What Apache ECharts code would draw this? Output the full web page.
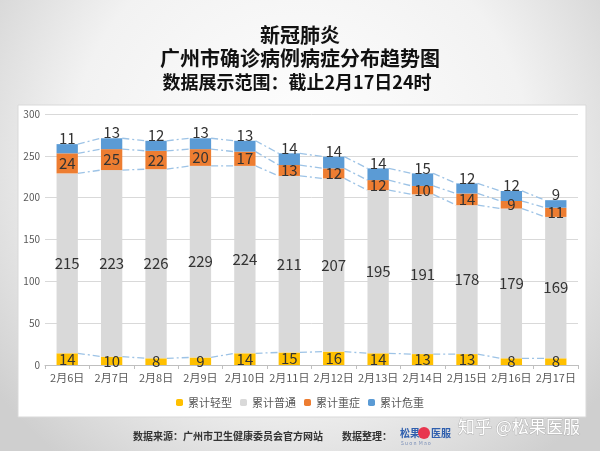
<!DOCTYPE html>
<html><head><meta charset="utf-8">
<script src="https://cdn.jsdelivr.net/npm/echarts@6/dist/echarts.min.js"></script>
<style>html,body{margin:0;padding:0;}#c{width:600px;height:451px;}</style>
</head><body><div id="c"></div>
<script>
const categories = ['2月6日','2月7日','2月8日','2月9日','2月10日','2月11日','2月12日','2月13日','2月14日','2月15日','2月16日','2月17日'];
const mild = [14,10,8,9,14,15,16,14,13,13,8,8];
const ordinary = [215,223,226,229,224,211,207,195,191,178,179,169];
const severe = [24,25,22,20,17,13,12,12,10,14,9,11];
const critical = [11,13,12,13,13,14,14,14,15,12,12,9];
const seriesNames = ['累计轻型','累计普通','累计重症','累计危重'];
const yTicks = [0,50,100,150,200,250,300];

const FONT = '"Noto Sans CJK SC", "Noto Sans", sans-serif';
const N = categories.length;
const cum1 = mild.map((v,i)=>v);
const cum2 = mild.map((v,i)=>v+ordinary[i]);
const cum3 = cum2.map((v,i)=>v+severe[i]);
const cum4 = cum3.map((v,i)=>v+critical[i]);
const levels = [cum1,cum2,cum3,cum4];

const chart = echarts.init(document.getElementById('c'), null, {renderer:'canvas'});
const lbl = {show:true, color:'#333333', fontSize:15, fontFamily:FONT};
const option = {
  animation:false,
  backgroundColor:{type:'radial', x:0.5, y:0.35, r:0.85, colorStops:[{offset:0,color:'#ffffff'},{offset:0.6,color:'#f2f2f2'},{offset:1,color:'#cfcfcf'}]},
  graphic:[
    {type:'rect', z:-10, shape:{x:18,y:105,width:568,height:312}, style:{fill:'#ffffff', stroke:'#d9d9d9', lineWidth:1}},
    {type:'text', x:300, y:35, style:{text:'新冠肺炎', font:'bold 20px '+FONT, fill:'#111', textAlign:'center', textVerticalAlign:'middle', align:'center', verticalAlign:'middle'}},
    {type:'text', x:300, y:58, style:{text:'广州市确诊病例病症分布趋势图', font:'bold 20px '+FONT, fill:'#111', textAlign:'center', textVerticalAlign:'middle', align:'center', verticalAlign:'middle'}},
    {type:'text', x:297, y:82, style:{text:'数据展示范围：截止2月17日24时', font:'bold 18px '+FONT, fill:'#111', textAlign:'center', textVerticalAlign:'middle', align:'center', verticalAlign:'middle'}},
    {type:'text', x:133, y:436, style:{text:'数据来源：广州市卫生健康委员会官方网站', font:'bold 10px '+FONT, fill:'#333', textVerticalAlign:'middle', verticalAlign:'middle'}},
    {type:'text', x:342, y:436, style:{text:'数据整理：', font:'bold 10px '+FONT, fill:'#333', textVerticalAlign:'middle', verticalAlign:'middle'}},
    {type:'text', x:400, y:433, style:{text:'松果', font:'bold 10px '+FONT, fill:'#2f5fae', textVerticalAlign:'middle', verticalAlign:'middle'}},
    {type:'circle', shape:{cx:424, cy:433, r:6}, style:{fill:'#e8364f'}},
    {type:'text', x:431, y:433, style:{text:'医服', font:'bold 10px '+FONT, fill:'#2f5fae', textVerticalAlign:'middle', verticalAlign:'middle'}},
    {type:'text', x:401, y:443, style:{text:'S u o n  M a o', font:'5px '+FONT, fill:'#7a8fb8', textVerticalAlign:'middle', verticalAlign:'middle'}},
    {type:'text', x:458, y:427, style:{text:'知乎 @松果医服', font:'17px '+FONT, fill:'#ffffff', stroke:'#b5b5b5', lineWidth:1, textVerticalAlign:'middle', verticalAlign:'middle'}}
  ],
  grid:{left:45, right:22, top:114, bottom:86},
  legend:{
    data:seriesNames, bottom:38, left:'center', itemWidth:7, itemHeight:7, itemGap:8,
    textStyle:{fontSize:11, color:'#595959', fontFamily:FONT}
  },
  xAxis:{
    type:'category', data:categories,
    axisLine:{lineStyle:{color:'#bfbfbf'}},
    axisTick:{show:true, length:4, lineStyle:{color:'#bfbfbf'}},
    axisLabel:{color:'#595959', fontSize:11, margin:7, fontFamily:FONT, interval:0}
  },
  yAxis:{
    type:'value', min:0, max:300, interval:50,
    axisLine:{show:false}, axisTick:{show:false},
    axisLabel:{color:'#595959', fontSize:10, margin:5, fontFamily:FONT},
    splitLine:{lineStyle:{color:'#d9d9d9'}}
  },
  series:[
    {name:seriesNames[0], type:'bar', stack:'t', barWidth:'48%', data:mild, itemStyle:{color:'#ffc000'}, label:Object.assign({position:'inside'},lbl)},
    {name:seriesNames[1], type:'bar', stack:'t', data:ordinary, itemStyle:{color:'#d9d9d9'}, label:Object.assign({position:'inside'},lbl)},
    {name:seriesNames[2], type:'bar', stack:'t', data:severe, itemStyle:{color:'#ed7d31'}, label:Object.assign({position:'inside'},lbl)},
    {name:seriesNames[3], type:'bar', stack:'t', data:critical, itemStyle:{color:'#5b9bd5'}, label:Object.assign({position:'top', distance:-2},lbl)},
    {
      type:'custom', name:'lines', silent:true, z:1,
      data:categories.slice(0,N-1).map((c,i)=>[i,0]),
      encode:{x:0,y:1},
      renderItem:function(params, api){
        const i = api.value(0);
        const half = api.size([1,0])[0]*0.24;
        const children = levels.map(arr=>{
          const p1 = api.coord([i, arr[i]]);
          const p2 = api.coord([i+1, arr[i+1]]);
          return {type:'line', shape:{x1:p1[0]+half, y1:p1[1], x2:p2[0]-half, y2:p2[1]},
            style:{stroke:'#9dc3e6', lineWidth:1.3, lineDash:[7,3,2,3]}};
        });
        return {type:'group', children:children};
      }
    }
  ]
};
chart.setOption(option);
</script></body></html>
